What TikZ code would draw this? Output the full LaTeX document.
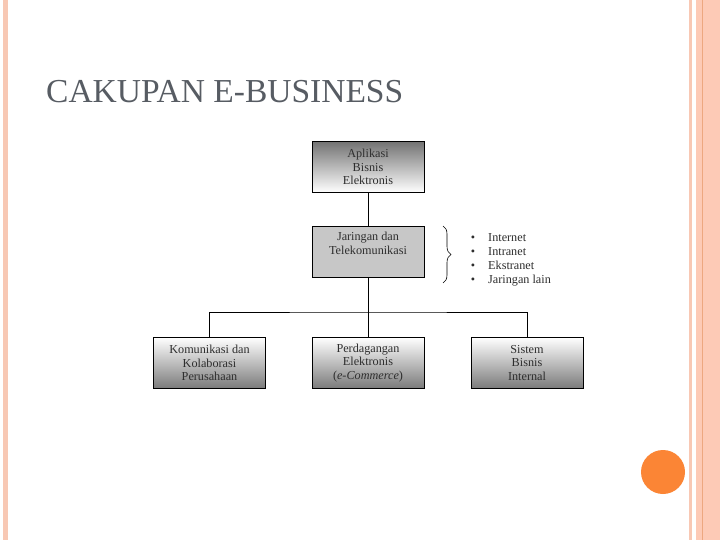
\documentclass[tikz,border=0pt]{standalone}
\usepackage{fontspec}
\setmainfont{Liberation Serif}
\usetikzlibrary{decorations.pathreplacing}
\definecolor{stripe}{HTML}{F8C8B4}
\definecolor{stripeb}{HTML}{FDCAB6}
\definecolor{stripec}{HTML}{EDA780}
\definecolor{dot}{HTML}{FB8535}
\definecolor{titlec}{HTML}{575C63}
\definecolor{txt}{HTML}{2E2E2E}
\tikzset{
  boxbase/.style={draw=black, line width=0.8pt, minimum width=112pt, minimum height=51pt,
    inner sep=0pt, align=center, text=txt,
    font=\fontsize{12.2}{13.6}\selectfont},
  topgrad/.style={boxbase, top color=black!55, bottom color=white},
  flatbox/.style={boxbase, fill=black!22},
  botgrad/.style={boxbase, top color=white, bottom color=black!52},
  conn/.style={line width=0.8pt},
  itemtxt/.style={anchor=base west, inner sep=0pt, text=txt, font=\fontsize{12.2}{13.6}\selectfont},
}
\begin{document}
\begin{tikzpicture}[x=1pt,y=-1pt]
\useasboundingbox (0,0) rectangle (720,540);
\fill[white] (0,0) rectangle (720,540);
% side stripes
\fill[stripe] (3,0) rectangle (8,540);
\fill[stripe] (689,0) rectangle (692,540);
\fill[stripeb] (696,0) rectangle (720,540);
\fill[stripec] (701.5,0) rectangle (703,540);
\fill[dot] (663,472) circle (22);
% title
\node[anchor=base west, inner sep=0pt, text=titlec, font=\fontsize{33.5}{36}\selectfont] (title) at (46,103) {CAKUPAN E-BUSINESS};
% boxes
\node[topgrad] (app) at (368,167) {Aplikasi\\Bisnis\\Elektronis};
\node[flatbox] (net) at (368,251.5) {Jaringan dan\\Telekomunikasi\\[3pt]};
\node[botgrad] (kom) at (209.5,363) {Komunikasi dan\\Kolaborasi\\Perusahaan};
\node[botgrad] (ecom) at (368,363) {Perdagangan\\Elektronis\\(\textit{e-Commerce})};
\node[botgrad] (sis) at (527,363) {Sistem\\Bisnis\\Internal};
% connectors
\coordinate (j) at (368,312);
\draw[conn] (app) -- (net);
\draw[conn] (net) -- (j);
\draw[conn] (kom.north) |- (j) -| (sis.north);
\draw[conn] (j) -- (ecom);
% brace
\coordinate (bt) at (443,226);
\coordinate (bb) at (443,283);
\draw[line width=0.6pt, decorate, decoration={brace, amplitude=8pt}] (bt) -- (bb);
% items
\node[itemtxt] (i1) at (488,241) {Internet};
\node[itemtxt] (i2) at (488,255) {Intranet};
\node[itemtxt] (i3) at (488,269) {Ekstranet};
\node[itemtxt] (i4) at (488,283) {Jaringan lain};
\foreach \n in {i1,i2,i3,i4}{
  \node[anchor=base, inner sep=0pt, text=txt, font=\fontsize{12.2}{13.6}\selectfont] at ([xshift=-15pt]\n.base west) {\textbullet};
}
\end{tikzpicture}
\end{document}
